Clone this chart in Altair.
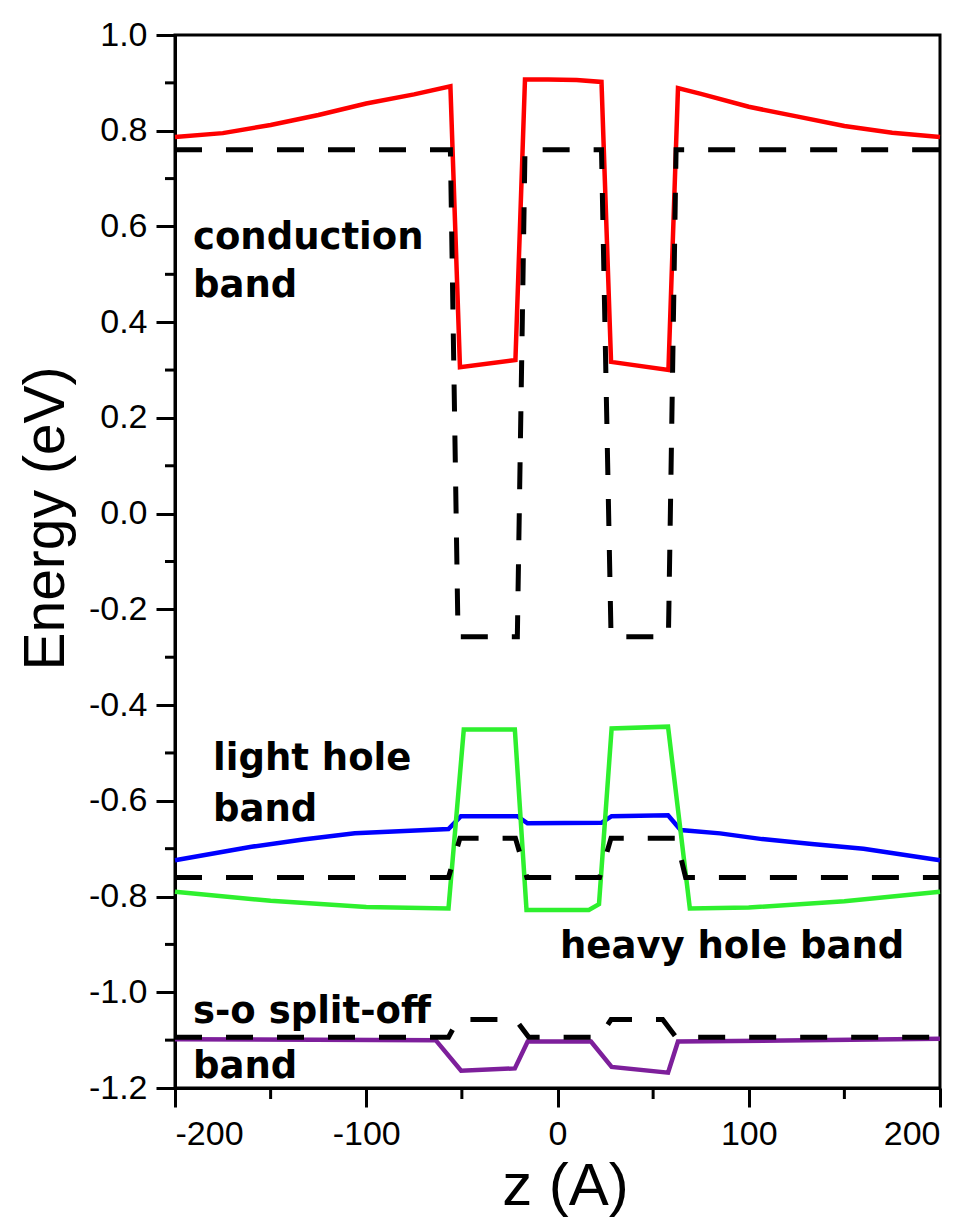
import altair as alt
import pandas as pd

# ---- conduction band (solid red) ----
cb_z = [-200, -175, -150, -125, -100, -75, -56, -51, -22, -17, -5, 10, 23, 28, 58, 63, 75, 100, 125, 150, 175, 200]
cb_e = [0.787, 0.795, 0.812, 0.833, 0.857, 0.876, 0.893, 0.306, 0.321, 0.907, 0.907, 0.906, 0.902, 0.317, 0.300, 0.889, 0.877, 0.850, 0.830, 0.810, 0.796, 0.787]
# ---- conduction band edge (dashed black) ----
cbd_z = [-200, -56, -52, -21, -17, 23, 28, 58, 62, 200]
cbd_e = [0.76, 0.76, -0.257, -0.257, 0.76, 0.76, -0.257, -0.257, 0.76, 0.76]

# ---- light hole (solid blue) ----
lh_z = [-200, -160, -133, -106, -80, -57, -50.5, -21, -15.7, 23, 28.3, 57.8, 64.4, 85, 107, 133, 160, 200]
lh_e = [-0.724, -0.696, -0.681, -0.668, -0.663, -0.659, -0.632, -0.632, -0.647, -0.646, -0.632, -0.630, -0.661, -0.668, -0.680, -0.690, -0.700, -0.724]

# ---- heavy hole (solid green) ----
hh_z = [-200, -150, -100, -57, -49, -22.3, -16.2, 16.4, 21.7, 28.3, 57.8, 69.2, 100, 150, 200]
hh_e = [-0.790, -0.809, -0.822, -0.825, -0.451, -0.451, -0.828, -0.828, -0.816, -0.449, -0.445, -0.825, -0.823, -0.810, -0.790]

# ---- valence band edge (dashed black) ----
vbd_z = [-200, -57, -51, -22, -16, 22, 28, 62, 67, 200]
vbd_e = [-0.76, -0.76, -0.678, -0.678, -0.76, -0.76, -0.678, -0.678, -0.76, -0.76]

# ---- split-off (solid purple) ----
so_z = [-200, -63.7, -50.4, -22.3, -15.6, 17.5, 28.3, 57.8, 63, 200]
so_e = [-1.098, -1.100, -1.164, -1.159, -1.103, -1.103, -1.156, -1.168, -1.103, -1.097]

# ---- split-off edge (dashed black) ----
sod_z = [-200, -57, -52, -22, -15, 22, 28, 55, 62, 200]
sod_e = [-1.094, -1.094, -1.057, -1.057, -1.094, -1.094, -1.057, -1.057, -1.094, -1.094]

# ---- axis ticks ----
y_major = [-1.2, -1.0, -0.8, -0.6, -0.4, -0.2, 0.0, 0.2, 0.4, 0.6, 0.8, 1.0]
y_minor = [-1.1, -0.9, -0.7, -0.5, -0.3, -0.1, 0.1, 0.3, 0.5, 0.7, 0.9]
x_major = [-200, -100, 0, 100, 200]
x_minor = [-150, -50, 50, 150]

# ---- annotations ----
ann_text = ["conduction", "band", "light hole", "band", "heavy hole band", "s-o split-off", "band"]
ann_z = [-190.6, -190.6, -180.1, -180.1, 1.3, -190.6, -190.6]
ann_e = [0.553, 0.453, -0.536, -0.642, -0.929, -1.064, -1.180]

series_names = ["CB", "LH", "HH", "SO"]
series_colors = ["#ff0000", "#0000ff", "#2ef02e", "#7d1f9b"]


def frame(name, zs, es):
    return pd.DataFrame({"series": name, "z": zs, "E": es, "i": list(range(len(zs)))})


solid_df = pd.concat([frame("CB", cb_z, cb_e), frame("LH", lh_z, lh_e),
                      frame("HH", hh_z, hh_e), frame("SO", so_z, so_e)], ignore_index=True)
dashed_df = pd.concat([frame("CBd", cbd_z, cbd_e), frame("VBd", vbd_z, vbd_e),
                       frame("SOd", sod_z, sod_e)], ignore_index=True)
ann_df = pd.DataFrame({"z": ann_z, "E": ann_e, "label": ann_text})

x_enc = alt.X("z:Q",
              scale=alt.Scale(domain=[-200, 200], nice=False, zero=False),
              axis=alt.Axis(values=x_major,
                            labelExpr="replace(format(datum.value, 'd'), '\u2212', '-')",
                            title="z (A)", titleX=390, titleY=116, titleFontSize=60,
                            titleAlign="center", titleBaseline="alphabetic",
                            tickSize=19, labelPadding=10, grid=False))
y_enc = alt.Y("E:Q",
              scale=alt.Scale(domain=[-1.2, 1.0], nice=False, zero=False),
              axis=alt.Axis(values=y_major,
                            labelExpr="replace(format(datum.value, '.1f'), '\u2212', '-')",
                            title="Energy (eV)", titleAngle=270, titleX=-112, titleY=483,
                            titleFontSize=57,
                            titleAlign="center", titleBaseline="alphabetic",
                            tickSize=19, labelPadding=9, grid=False))

solid = alt.Chart(solid_df).mark_line(strokeWidth=4.5).encode(
    x=x_enc, y=y_enc,
    color=alt.Color("series:N", scale=alt.Scale(domain=series_names, range=series_colors), legend=None),
    order="i:Q",
)

dashed = alt.Chart(dashed_df).mark_line(strokeWidth=5, color="black", strokeDash=[27, 24]).encode(
    x=x_enc, y=y_enc, detail="series:N", order="i:Q",
)

minor_y = alt.Chart(pd.DataFrame({"E": y_minor})).mark_rule(color="black", strokeWidth=3).encode(
    y=y_enc, x=alt.value(0), x2=alt.value(-10),
)
minor_x = alt.Chart(pd.DataFrame({"z": x_minor})).mark_rule(color="black", strokeWidth=3).encode(
    x=x_enc, y=alt.value(1053), y2=alt.value(1064),
)

texts = alt.Chart(ann_df).mark_text(align="left", baseline="alphabetic", font="DejaVu Sans",
                                    fontWeight="bold", fontSize=37, color="black").encode(
    x=x_enc, y=y_enc, text="label:N",
)

chart = alt.layer(solid, dashed, minor_y, minor_x, texts).properties(
    width=765, height=1053,
    autosize=alt.AutoSizeParams(type="none"),
    padding={"left": 175, "top": 35, "right": 38, "bottom": 130},
    background="white",
).configure_view(
    stroke="black", strokeWidth=3,
).configure_axis(
    domainColor="black", domainWidth=3, tickColor="black", tickWidth=3,
    labelFont="Liberation Sans", labelFontSize=34, labelColor="black",
    titleFont="Liberation Sans", titleFontWeight="normal", titleColor="black",
)

chart.save("out.html", embed_options={"renderer": "svg", "actions": False})
